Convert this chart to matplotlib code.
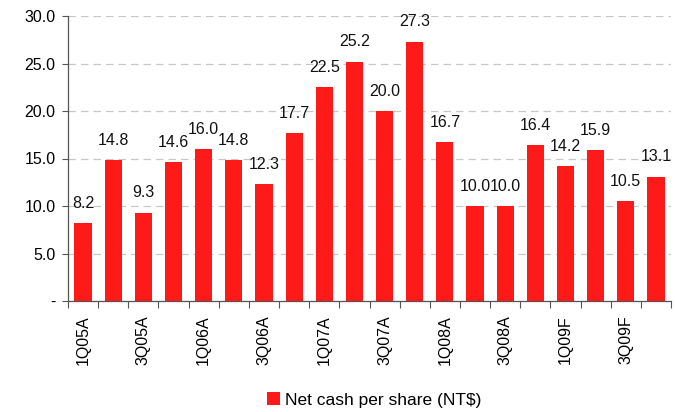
import matplotlib
matplotlib.use("Agg")
import matplotlib.pyplot as plt
import numpy as np

quarters = ["1Q05A", "2Q05A", "3Q05A", "4Q05A", "1Q06A", "2Q06A", "3Q06A", "4Q06A",
            "1Q07A", "2Q07A", "3Q07A", "4Q07A", "1Q08A", "2Q08A", "3Q08A", "4Q08A",
            "1Q09F", "2Q09F", "3Q09F", "4Q09F"]
net_cash = [8.2, 14.8, 9.3, 14.6, 16.0, 14.8, 12.3, 17.7, 22.5, 25.2,
            20.0, 27.3, 16.7, 10.0, 10.0, 16.4, 14.2, 15.9, 10.5, 13.1]
y_ticks = [0, 5, 10, 15, 20, 25, 30]
y_labels = ["-", "5.0", "10.0", "15.0", "20.0", "25.0", "30.0"]
series_name = "Net cash per share (NT$)"

plt.rcParams['font.family'] = ['Liberation Sans', 'DejaVu Sans']

fig = plt.figure(figsize=(6.75, 4.12), dpi=100)
ax = fig.add_axes([68/675, 1-301/412, (671-68)/675, (301-16)/412])

x = np.arange(len(quarters))
bars = ax.bar(x, net_cash, width=0.57, color="#FF1A1A", label=series_name, zorder=3)

for xi, v in zip(x, net_cash):
    ax.annotate(f"{v:.1f}", (xi, v), xytext=(0, 11), textcoords="offset points",
                ha="center", va="baseline", fontsize=11.5, color="#111111")

ax.set_xlim(-0.5, len(quarters) - 0.5)
ax.set_ylim(0, 30)
ax.set_yticks(y_ticks)
ax.set_yticklabels(y_labels, fontsize=11.5)
ax.yaxis.grid(True, color="#C8C8C8", linestyle=(0, (6, 4)), linewidth=0.9, zorder=0)
ax.tick_params(axis="y", length=4, width=0.8, color="#555555", pad=5)

ax.set_xticks(x[::2])
ax.set_xticklabels(quarters[::2], rotation=90, fontsize=11.5)
ax.set_xticks(np.arange(-0.5, len(quarters), 1.0), minor=True)
ax.tick_params(axis="x", which="major", length=0, pad=10)
ax.tick_params(axis="x", which="minor", length=5, width=0.8, color="#555555")

for s in ["top", "right"]:
    ax.spines[s].set_visible(False)
for s in ["left", "bottom"]:
    ax.spines[s].set_color("#555555")
    ax.spines[s].set_linewidth(0.9)

fig.legend(handles=[bars], labels=[series_name], loc="center",
           bbox_to_anchor=(374/675, 1-400/412), frameon=False, fontsize=12.5,
           handlelength=0.75, handleheight=0.75, handletextpad=0.3)

fig.savefig("out.png", dpi=100)
